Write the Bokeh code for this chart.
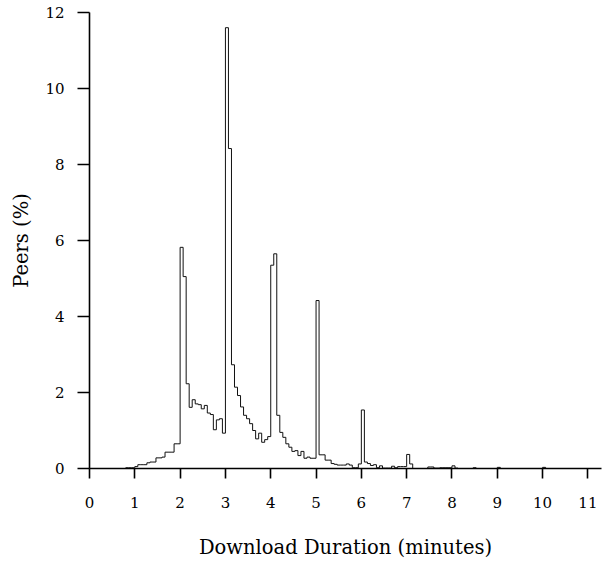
import numpy as np
from bokeh.plotting import figure
from bokeh.models import Range1d, FixedTicker
from bokeh.embed import file_html
from bokeh.resources import INLINE

# Histogram of download durations: 4-second bins (1/15 minute), first bin starts at 0.8 min
bin_width_min = 4.0 / 60.0
first_bin_start_min = 0.8
peers_pct = [
    0.02, 0.02, 0.02, 0.05, 0.10, 0.10, 0.10, 0.15, 0.17, 0.17,   # 0.80 - 1.40
    0.28, 0.28, 0.30, 0.43, 0.43, 0.43, 0.65, 0.65,               # 1.47 - 1.93
    5.82, 5.05, 2.23, 1.61, 1.81, 1.70, 1.68, 1.57, 1.66, 1.46,   # 2.00 - 2.60
    1.42, 1.02, 1.28, 1.31, 0.93,                                 # 2.67 - 2.93
    11.60, 8.42, 2.73, 2.14, 1.92, 1.62, 1.40, 1.31, 1.18, 1.00,  # 3.00 - 3.60
    0.78, 0.93, 0.69, 0.76, 0.84,                                 # 3.67 - 3.93
    5.35, 5.65, 1.40, 0.95, 0.82, 0.65, 0.56, 0.45, 0.47, 0.34,   # 4.00 - 4.60
    0.45, 0.27, 0.30, 0.27, 0.27,                                 # 4.67 - 4.93
    4.42, 0.36, 0.36, 0.22, 0.22, 0.13, 0.11, 0.09, 0.09, 0.09,   # 5.00 - 5.60
    0.12, 0.09, 0.02, 0.02, 0.12,                                 # 5.67 - 5.93
    1.54, 0.17, 0.13, 0.08, 0.10, 0.02, 0.07, 0.01, 0.01, 0.01,   # 6.00 - 6.60
    0.06, 0.02, 0.05, 0.05, 0.05,                                 # 6.67 - 6.93
    0.37, 0.12, 0.00, 0.00, 0.00, 0.00, 0.00, 0.04, 0.04, 0.01,   # 7.00 - 7.60
    0.01, 0.02, 0.02, 0.02, 0.02,                                 # 7.67 - 7.93
    0.07, 0.01, 0.00, 0.00, 0.00, 0.00, 0.00, 0.02, 0.00, 0.00,   # 8.00 - 8.60
    0.00, 0.00, 0.00, 0.00, 0.00,                                 # 8.67 - 8.93
    0.03, 0.00, 0.00, 0.00, 0.00, 0.00, 0.00, 0.00, 0.00, 0.00,   # 9.00 - 9.60
    0.00, 0.00, 0.00, 0.00, 0.00,                                 # 9.67 - 9.93
    0.03, 0.00,                                                   # 10.00 - 10.07
]

x_ticks = list(range(0, 12))
y_ticks = list(range(0, 13, 2))

n = len(peers_pct)
edges = [first_bin_start_min + k * bin_width_min for k in range(n + 1)]
step_x = [edges[0]] + edges
step_y = [0.0] + list(peers_pct) + [0.0]

FONT = "DejaVu Serif"

p = figure(
    width=603, height=561,
    x_range=Range1d(0, 11.3), y_range=Range1d(0, 12),
    output_backend="svg", toolbar_location=None,
    min_border_left=89, min_border_right=2, min_border_top=12, min_border_bottom=93,
)
p.outline_line_color = None
p.xgrid.visible = False
p.ygrid.visible = False
p.background_fill_color = "white"
p.border_fill_color = "white"

p.step(step_x, step_y, mode="after", line_color="#111111", line_width=1)

for ax, ticks, tick_out in ((p.xaxis, x_ticks, 10), (p.yaxis, y_ticks, 12)):
    ax.ticker = FixedTicker(ticks=ticks, minor_ticks=[])
    ax.major_tick_in = 0
    ax.major_tick_out = tick_out
    ax.minor_tick_in = 0
    ax.minor_tick_out = 0
    ax.axis_line_width = 1.6
    ax.major_tick_line_width = 1.6
    ax.axis_line_color = "black"
    ax.major_tick_line_color = "black"
    ax.major_label_text_font = FONT
    ax.major_label_text_font_size = "15px"
    ax.major_label_text_color = "black"
    ax.axis_label_text_font = FONT
    ax.axis_label_text_font_size = "19.5px"
    ax.axis_label_text_font_style = "normal"
    ax.axis_label_text_color = "black"

p.xaxis.axis_label = "Download Duration (minutes)"
p.yaxis.axis_label = "Peers (%)"
p.xaxis.major_label_standoff = 18
p.xaxis.axis_label_standoff = 25
p.yaxis.major_label_standoff = 13
p.yaxis.axis_label_standoff = 9

open("out.html", "w").write(file_html(p, INLINE))
